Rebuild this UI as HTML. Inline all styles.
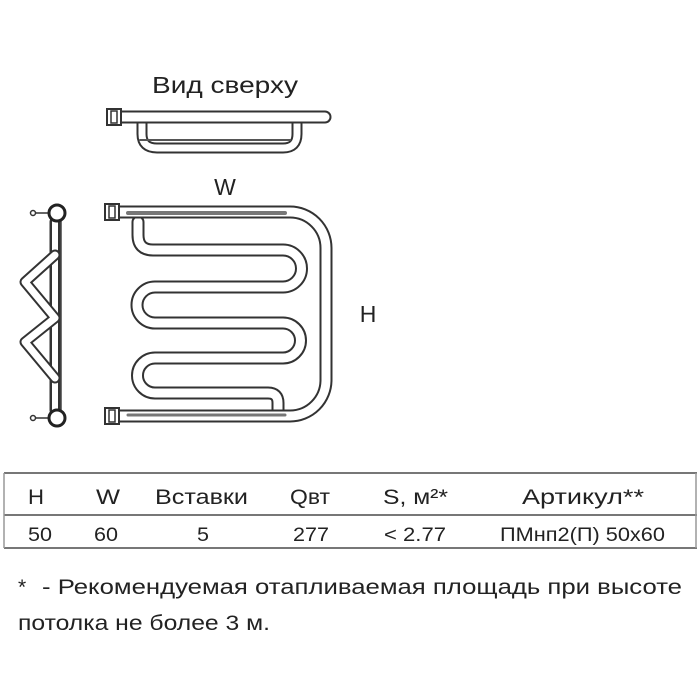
<!DOCTYPE html>
<html><head><meta charset="utf-8"><style>
body{margin:0;background:#fff;}
svg{display:block}
text{font-family:"Liberation Sans","DejaVu Sans",sans-serif;fill:#222}
</style></head><body>
<svg width="700" height="700" viewBox="0 0 700 700" xmlns="http://www.w3.org/2000/svg">
<rect width="700" height="700" fill="#fff"/>
<text x="152" y="93" font-size="23" textLength="146" lengthAdjust="spacingAndGlyphs">Вид сверху</text>
<text x="225" y="195" font-size="23" text-anchor="middle">W</text>
<text x="368" y="322" font-size="23" text-anchor="middle">H</text>

<!-- top view -->
<g fill="none" stroke-linecap="round" stroke-linejoin="round">
  <path d="M142,122 V134 Q142,148 157,148 H283 Q297,148 297,134 V122" stroke="#333" stroke-width="11"/>
  <path d="M142,122 V134 Q142,148 157,148 H283 Q297,148 297,134 V122" stroke="#fff" stroke-width="7"/>
  <path d="M140,140 H290" stroke="#555" stroke-width="2"/>
  <path d="M118,117 H325" stroke="#333" stroke-width="13"/>
  <path d="M118,117 H325" stroke="#fff" stroke-width="9"/>
</g>
<rect x="107" y="109" width="14" height="16" fill="#fff" stroke="#333" stroke-width="2"/>
<rect x="111" y="111" width="6" height="12" fill="none" stroke="#333" stroke-width="1.5"/>

<!-- front view -->
<g fill="none" stroke-linecap="round" stroke-linejoin="round">
  <path d="M138,222 V235 Q138,250 153,250 H283 A18.5,18.5 0 0 1 283,287 H155 A18,18 0 0 0 155,323 H283 A17.5,17.5 0 0 1 283,358 H155 A17.5,17.5 0 0 0 155,393 H268 Q278,393 278,403 V413" stroke="#333" stroke-width="13"/>
  <path d="M138,222 V235 Q138,250 153,250 H283 A18.5,18.5 0 0 1 283,287 H155 A18,18 0 0 0 155,323 H283 A17.5,17.5 0 0 1 283,358 H155 A17.5,17.5 0 0 0 155,393 H268 Q278,393 278,403 V413" stroke="#fff" stroke-width="9"/>
  <path d="M115,212 H290 A36,36 0 0 1 326,248 V380 A36,36 0 0 1 290,416 H115" stroke="#333" stroke-width="13"/>
  <path d="M115,212 H290 A36,36 0 0 1 326,248 V380 A36,36 0 0 1 290,416 H115" stroke="#fff" stroke-width="9"/>
  <path d="M128,213 H285" stroke="#777" stroke-width="4"/>
  <path d="M128,415 H285" stroke="#777" stroke-width="3"/>
</g>
<rect x="105" y="204" width="14" height="16" fill="#fff" stroke="#333" stroke-width="2"/>
<rect x="109" y="206" width="6" height="12" fill="none" stroke="#333" stroke-width="1.5"/>
<rect x="105" y="408" width="14" height="16" fill="#fff" stroke="#333" stroke-width="2"/>
<rect x="109" y="410" width="6" height="12" fill="none" stroke="#333" stroke-width="1.5"/>

<!-- side view -->
<g fill="none" stroke-linecap="round" stroke-linejoin="round">
  <path d="M55,222 V410" stroke="#333" stroke-width="11"/>
  <path d="M55,222 V410" stroke="#fff" stroke-width="6"/>
  <path d="M55,255 L25,282 L55,318 L25,342 L55,378" stroke="#333" stroke-width="11"/>
  <path d="M55,255 L25,282 L55,318 L25,342 L55,378" stroke="#fff" stroke-width="7"/>
  <path d="M61,220 V412" stroke="#444" stroke-width="1.5"/>
  <path d="M33,213 H50 M33,418 H50" stroke="#333" stroke-width="1.5"/>
</g>
<circle cx="33" cy="213" r="2.5" fill="#fff" stroke="#333" stroke-width="1.5"/>
<circle cx="33" cy="418" r="2.5" fill="#fff" stroke="#333" stroke-width="1.5"/>
<circle cx="57" cy="213" r="8" fill="#fff" stroke="#222" stroke-width="3"/>
<circle cx="57" cy="418" r="8" fill="#fff" stroke="#222" stroke-width="3"/>

<!-- table -->
<path d="M4,473 H697 M4,515 H697 M4,548 H697" stroke="#777" stroke-width="2"/>
<path d="M4,473 V548 M696,473 V548" stroke="#999" stroke-width="1.5"/>
<g font-size="21">
<text x="28" y="504" textLength="16" lengthAdjust="spacingAndGlyphs">H</text>
<text x="96" y="504" textLength="24" lengthAdjust="spacingAndGlyphs">W</text>
<text x="155" y="504" textLength="93" lengthAdjust="spacingAndGlyphs">Вставки</text>
<text x="290" y="504" textLength="40" lengthAdjust="spacingAndGlyphs">Qвт</text>
<text x="383" y="504" textLength="65" lengthAdjust="spacingAndGlyphs">S, м²*</text>
<text x="522" y="504" textLength="122" lengthAdjust="spacingAndGlyphs">Артикул**</text>
</g>
<g font-size="19">
<text x="28" y="541" textLength="24" lengthAdjust="spacingAndGlyphs">50</text>
<text x="94" y="541" textLength="24" lengthAdjust="spacingAndGlyphs">60</text>
<text x="197" y="541" textLength="12" lengthAdjust="spacingAndGlyphs">5</text>
<text x="293" y="541" textLength="36" lengthAdjust="spacingAndGlyphs">277</text>
<text x="384" y="541" textLength="62" lengthAdjust="spacingAndGlyphs">&lt; 2.77</text>
<text x="500" y="541" textLength="165" lengthAdjust="spacingAndGlyphs">ПМнп2(П) 50x60</text>
</g>
<g font-size="21">
<text x="18" y="594">*</text>
<text x="42" y="594" textLength="640" lengthAdjust="spacingAndGlyphs">- Рекомендуемая отапливаемая площадь при высоте</text>
<text x="18" y="630" textLength="252" lengthAdjust="spacingAndGlyphs">потолка не более 3 м.</text>
</g>
</svg>
</body></html>
